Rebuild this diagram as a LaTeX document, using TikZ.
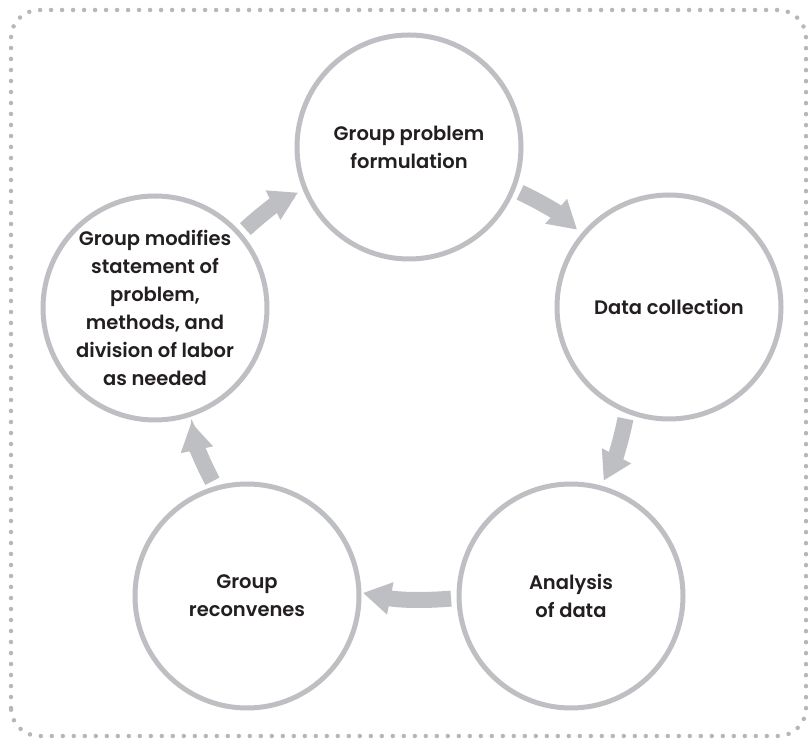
\documentclass[tikz,border=0pt]{standalone}
\usepackage{fontspec}
\setmainfont{Poppins}[UprightFont={* SemiBold}]
\usetikzlibrary{arrows.meta}
\definecolor{ringgray}{RGB}{190,191,194}
\definecolor{dotgray}{RGB}{182,183,187}
\definecolor{inkdark}{RGB}{35,31,32}
\begin{document}
\begin{tikzpicture}[x=1pt,y=1pt,
    stage/.style={circle, draw=ringgray, line width=5pt, minimum size=224pt,
      inner sep=0pt, outer sep=0pt, align=center, text=inkdark,
      font=\fontsize{19.5}{28}\selectfont},
    flow/.style={draw=ringgray, line width=16pt, bend left=8,
      -{Triangle[length=28pt,width=31pt]}, shorten <=8pt, shorten >=8pt},
    border/.style={draw=dotgray, line width=4.5pt, line cap=round,
      dash pattern=on 0pt off 11pt, rounded corners=28pt}]
    \useasboundingbox (0,0) rectangle (808,739);
    % Dotted frame
    \draw[border] (11,3) rectangle (806,729);
    % Stages of the cycle
    \node[stage] (formul) at (409,592) {Group problem\\formulation};
    \node[stage] (collect) at (669,432) {Data collection};
    \node[stage] (analys) at (571,143) {Analysis\\of data};
    \node[stage] (reconv) at (247,143) {Group\\reconvenes};
    \node[stage] (modify) at (155,431) {Group modifies\\statement of\\problem,\\methods, and\\division of labor\\as needed};
    % Arrows between stages
    \draw[flow] (formul.-22) to (collect.140);
    \draw[flow] (collect.-112) to (analys.75);
    \draw[flow, shorten >=4pt] (analys.181) to (reconv.2);
    \draw[flow] (reconv.106) to (modify.-72);
    \draw[flow] (modify.41) to (formul.202);
\end{tikzpicture}
\end{document}
